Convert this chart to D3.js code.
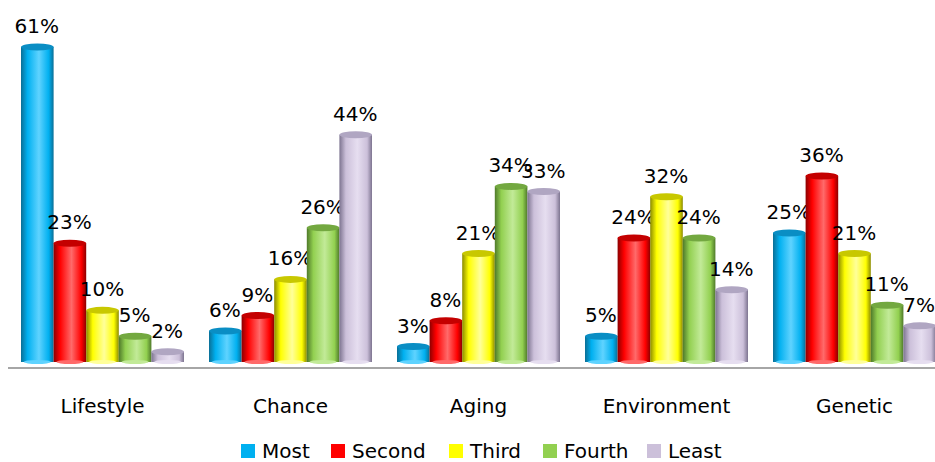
<!DOCTYPE html>
<html><head><meta charset="utf-8">
<script src="https://cdn.jsdelivr.net/npm/d3@7"></script>
<style>body{margin:0;background:#fff}svg{display:block;font-family:"DejaVu Sans",sans-serif}</style>
</head><body><svg id="c" width="935" height="462"></svg>
<script>
const categories = ["Lifestyle","Chance","Aging","Environment","Genetic"];
const seriesNames = ["Most","Second","Third","Fourth","Least"];
const most   = [61, 6, 3, 5, 25];
const second = [23, 9, 8, 24, 36];
const third  = [10, 16, 21, 32, 21];
const fourth = [5, 26, 34, 24, 11];
const least  = [2, 44, 33, 14, 7];
const seriesValues = [most, second, third, fourth, least];
const colors = ["#00B0F0","#FF0000","#FFFF00","#92D050","#CCC0DA"];
const darks  = ["#0a6f96","#8c0000","#8c8c00","#4f7a2a","#7d7490"];
const lights = ["#5fd3ff","#ff6a6a","#ffff9a","#c2ea98","#e6def0"];
const caps   = ["#0a8ec4","#c40000","#c8c800","#73a840","#b0a6c2"];

const svg = d3.select("#c");
const defs = svg.append("defs");
colors.forEach((c,i)=>{
  const g = defs.append("linearGradient").attr("id","g"+i).attr("x1","0").attr("x2","1").attr("y1","0").attr("y2","0");
  g.append("stop").attr("offset","0%").attr("stop-color",darks[i]);
  g.append("stop").attr("offset","20%").attr("stop-color",c);
  g.append("stop").attr("offset","55%").attr("stop-color",lights[i]);
  g.append("stop").attr("offset","85%").attr("stop-color",c);
  g.append("stop").attr("offset","100%").attr("stop-color",darks[i]);
});

const x0 = d3.scaleBand().domain(categories).range([8.5, 948.5]).paddingInner(25/188).paddingOuter(12.5/188);
const x1 = d3.scaleBand().domain(seriesNames).range([0, x0.bandwidth()]);
const y = d3.scaleLinear().domain([0, 61]).range([362, 47]);

const data = [];
categories.forEach((c,ci)=>seriesNames.forEach((s,si)=>data.push({c,s,si,v:seriesValues[si][ci]})));

const g = svg.append("g");
const bw = x1.bandwidth();
const bars = g.selectAll("g.bar").data(data).join("g").attr("class","bar")
  .attr("transform",d=>`translate(${x0(d.c)+x1(d.s)},0)`);
bars.append("rect").attr("x",0).attr("width",bw).attr("y",d=>y(d.v)).attr("height",d=>y(0)-y(d.v))
  .attr("fill",d=>`url(#g${d.si})`);
bars.append("ellipse").attr("cx",bw/2).attr("cy",y(0)).attr("rx",bw/2-3).attr("ry",2)
  .attr("fill",d=>lights[d.si]);
bars.append("ellipse").attr("cx",bw/2).attr("cy",d=>y(d.v)).attr("rx",bw/2).attr("ry",3.5)
  .attr("fill",d=>caps[d.si]);
bars.append("text").attr("x",bw/2 - 0.5).attr("y",d=>y(d.v)-14).attr("text-anchor","middle")
  .attr("font-size",20).attr("fill","#000").text(d=>d.v+"%");

svg.append("line").attr("x1",8).attr("x2",935).attr("y1",368).attr("y2",368)
  .attr("stroke","#a6a6a6").attr("stroke-width",2);

const xAxis = d3.axisBottom(x0).tickSize(0).tickPadding(0);
const ax = svg.append("g").attr("transform","translate(0,413)").call(xAxis);
ax.select(".domain").remove();
ax.selectAll("text").attr("font-size",20).attr("fill","#000").attr("font-family","'DejaVu Sans',sans-serif").attr("dy","0").attr("y",0);

const legX = [241, 331, 449, 543, 647];
const leg = svg.append("g").selectAll("g").data(seriesNames).join("g")
  .attr("transform",(d,i)=>`translate(${legX[i]},444)`);
leg.append("rect").attr("width",14).attr("height",14).attr("fill",(d,i)=>colors[i]);
leg.append("text").attr("x",21).attr("y",14).attr("font-size",20).attr("fill","#000").text(d=>d);
</script></body></html>
